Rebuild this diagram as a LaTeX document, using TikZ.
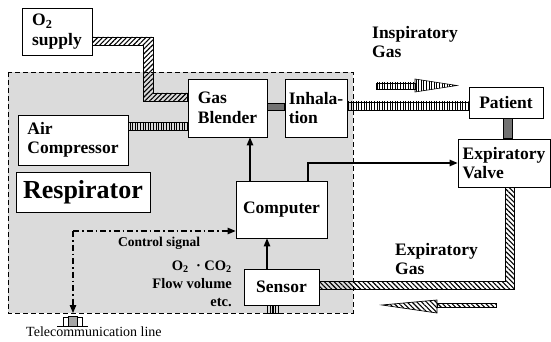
\documentclass[tikz,border=0pt]{standalone}
\usepackage{fontspec}
\setmainfont{Liberation Serif}
\usetikzlibrary{patterns.meta,arrows.meta,calc}
\begin{document}
\begin{tikzpicture}[x=1pt,y=-1pt,
  box/.style={draw,fill=white,line width=0.8pt,inner sep=0pt,align=left,
    font=\fontsize{17.5}{19.5}\selectfont\bfseries},
  lab/.style={inner sep=0pt,align=left,font=\fontsize{17.5}{19.5}\selectfont\bfseries},
  pipeNE/.style={draw,line width=0.7pt,pattern={Lines[angle=45,distance=3.4pt,line width=1.1pt]}},
  pipeNW/.style={draw,line width=0.7pt,pattern={Lines[angle=-45,distance=3.4pt,line width=1.1pt]}},
  pipeV/.style={draw,line width=0.6pt,pattern={Lines[angle=90,distance=2.6pt,line width=0.8pt]}},
  pipeD/.style={draw,line width=0.6pt,fill=black!55},
  arr/.style={line width=1.2pt,-{Triangle[length=8pt,width=6.5pt]}},
  ctrl/.style={line width=1.1pt,dash pattern=on 6pt off 3pt on 1.5pt off 3pt,-{Triangle[length=8pt,width=6.5pt]}}
]
\useasboundingbox (0,0) rectangle (551,342);
% respirator region
\draw[dash pattern=on 5pt off 3pt,line width=0.7pt,fill=black!14] (8,72) rectangle (353,313);

% boxes
\node[box,minimum width=70pt,minimum height=47pt] (o2) at (57,31.5) {O\textsubscript{2}\\supply};
\node[box,minimum width=79pt,minimum height=58pt] (gb) at (227.5,108) {Gas\\Blender};
\node[box,minimum width=110pt,minimum height=50pt] (ac) at (73,140) {Air\\Compressor};
\node[box,minimum width=62pt,minimum height=58pt] (inh) at (316,108) {Inhala-\\tion};
\node[box,minimum width=74pt,minimum height=31pt] (pat) at (506,102.5) {Patient};
\node[box,minimum width=92pt,minimum height=48pt] (ev) at (504,163) {Expiratory\\Valve};
\node[box,minimum width=91pt,minimum height=57pt] (comp) at (281.5,209.5) {Computer};
\node[box,minimum width=75pt,minimum height=36pt] (sens) at (281.5,287) {Sensor};
\node[box,minimum width=134pt,minimum height=40pt,font=\fontsize{26}{28}\selectfont\bfseries] (resp) at (83,192) {Respirator};

% pipes
\path[pipeNE] (o2.east |- 0,37) -- (153,37) -- (153,93) -- (gb.west |- 0,93) -- (gb.west |- 0,101.5) -- (143,101.5) -- (143,45) -- (o2.east |- 0,45) -- cycle;
\path[pipeV] (ac.east |- 0,122.5) rectangle (gb.west |- 0,130.5);
\path[pipeD] (gb.east |- 0,103) rectangle (inh.west |- 0,110);
\path[pipeV] (inh.east |- 0,102) rectangle (pat.west |- 0,110);
\path[pipeD] (pat.south -| 503,0) rectangle (ev.north -| 512,0);
\path[pipeNW] (sens.east |- 0,281) -- (505,281) -- (ev.south -| 505,0) -- (ev.south -| 514,0) -- (514,289) -- (sens.east |- 0,289) -- cycle;
\path[pipeV] (sens.south -| 267,0) rectangle (272.5,313);
\path[pipeV] (272.5,305) rectangle (278,313);

% gas flow arrows
\path[pipeV] (376,83) rectangle (415,89);
\path[pipeV] (415,79) -- (457,85.5) -- (415,92) -- cycle;
\path[pipeNW] (437,303) rectangle (496,307.5);
\path[pipeNW] (437,300) -- (382,305) -- (437,313) -- cycle;

% signal arrows
\draw[arr] (comp.north -| 250,0) -- (gb.south -| 250,0);
\draw[arr] (sens.north -| 267,0) -- (comp.south -| 267,0);
\draw[arr] (comp.north -| 308,0) |- (ev.west);
\coordinate (cs) at (73,231);
\coordinate (tel) at (73,313);
\draw[ctrl] (cs) -- (comp.west |- cs);
\draw[ctrl] (cs) -- (tel);

% telecommunication connector
\draw[line width=0.7pt,fill=black!35] (68,316) rectangle (77,326);
\draw[line width=0.8pt] (63,317) -- (68,317) (63,317) -- (63,326) (57,326) -- (68,326)
  (77,317) -- (82,317) (82,317) -- (82,326) (77,326) -- (88,326);

% labels
\node[lab,anchor=north west] (ig) at (372,26) {Inspiratory\\Gas};
\node[lab,anchor=north west] (eg) at (395,243) {Expiratory\\Gas};
\node[lab,anchor=west,font=\fontsize{13.5}{15}\selectfont\bfseries] (csl) at (118,243) {Control signal};
\node[lab,anchor=north east,align=right,font=\fontsize{14.5}{18}\selectfont\bfseries] (meas) at (232,261)
  {O\textsubscript{2}~~·~CO\textsubscript{2}\\Flow volume\\etc.};
\node[lab,anchor=north west,font=\fontsize{14}{15}\selectfont] (tl) at (26,327) {Telecommunication line};
\end{tikzpicture}
\end{document}
